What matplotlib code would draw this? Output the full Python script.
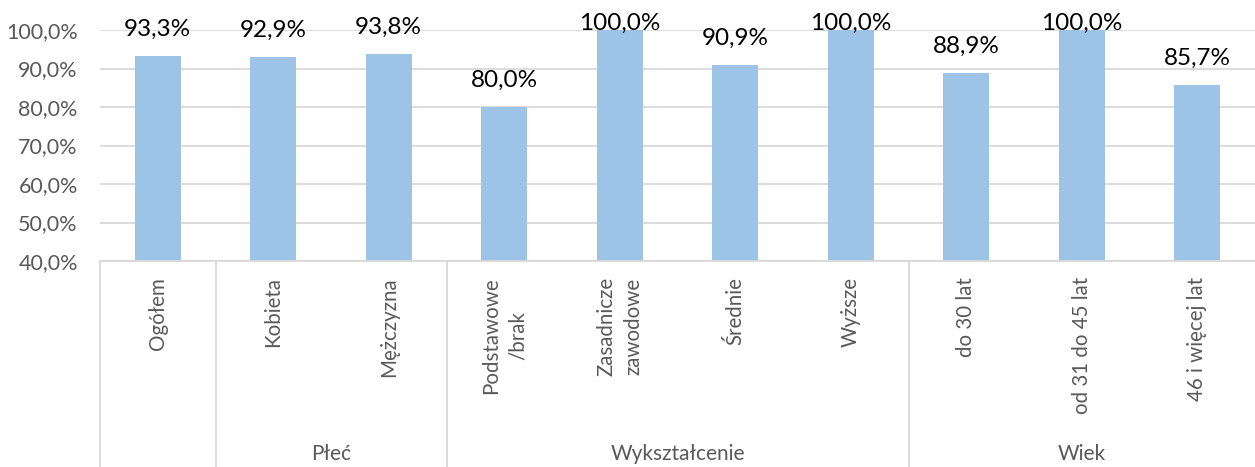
import matplotlib
matplotlib.use("Agg")
import matplotlib.pyplot as plt
from matplotlib.lines import Line2D
from matplotlib.transforms import blended_transform_factory

plt.rcParams['font.family'] = ['Lato', 'DejaVu Sans']

categories = ["Ogółem", "Kobieta", "Mężczyzna", "Podstawowe\n/brak", "Zasadnicze\nzawodowe",
              "Średnie", "Wyższe", "do 30 lat", "od 31 do 45 lat", "46 i więcej lat"]
values = [93.3, 92.9, 93.8, 80.0, 100.0, 90.9, 100.0, 88.9, 100.0, 85.7]
groups = ["Płeć", "Wykształcenie", "Wiek"]
group_spans = [(1, 2), (3, 6), (7, 9)]
yticks = [40, 50, 60, 70, 80, 90, 100]

W, H = 1255, 467
fig = plt.figure(figsize=(W / 100, H / 100), dpi=100)
x0, x1 = 100, 1255
ytop, ybot = 30, 261
ax = fig.add_axes([x0 / W, (H - ybot) / H, (x1 - x0) / W, (ybot - ytop) / H])

bar_color = "#9DC3E6"
grid_color = "#D9D9D9"
text_gray = "#595959"

xs = list(range(len(categories)))
ax.bar(xs, values, width=0.4, color=bar_color, zorder=2)
ax.set_xlim(-0.5, len(categories) - 0.5)
ax.set_ylim(40, 100)
ax.set_yticks(yticks)
ax.set_yticklabels([f"{v:.1f}%".replace(".", ",") for v in yticks], fontsize=15.5, color=text_gray)
ax.yaxis.grid(True, color=grid_color, linewidth=1.3, zorder=0)
ax.tick_params(axis='y', length=0, pad=16)
ax.set_xticks([])
for s in ["top", "right", "left"]:
    ax.spines[s].set_visible(False)
ax.spines["bottom"].set_color(grid_color)
ax.spines["bottom"].set_linewidth(1.3)

px_per_unit = (ybot - ytop) / (100 - 40)
for x, v in zip(xs, values):
    bar_top_px = ytop + (100 - v) * px_per_unit
    off_px = min(20.0, bar_top_px - ytop)
    ax.annotate(f"{v:.1f}%".replace(".", ","), (x, v), xytext=(0, off_px * 0.72),
                textcoords="offset points", ha="center", va="baseline", fontsize=17.5,
                color="black", annotation_clip=False)

# category labels (rotated)
trans = blended_transform_factory(ax.transData, fig.transFigure)
for x, c in zip(xs, categories):
    ax.text(x, (H - 277) / H, c, transform=trans, rotation=90, ha="center", va="top",
            fontsize=14.8, color=text_gray, multialignment="center", linespacing=1.45,
            clip_on=False)

# group labels
for g, (a, b) in zip(groups, group_spans):
    ax.text((a + b) / 2, (H - 454) / H, g, transform=trans, ha="center", va="center",
            fontsize=15, color=text_gray, clip_on=False)

# separators
for bx in [-0.5, 0.5, 2.5, 6.5]:
    ax.add_line(Line2D([bx, bx], [(H - ybot) / H, 0], transform=trans, color=grid_color,
                       linewidth=1.3, clip_on=False))

fig.savefig("out.png", dpi=100)
